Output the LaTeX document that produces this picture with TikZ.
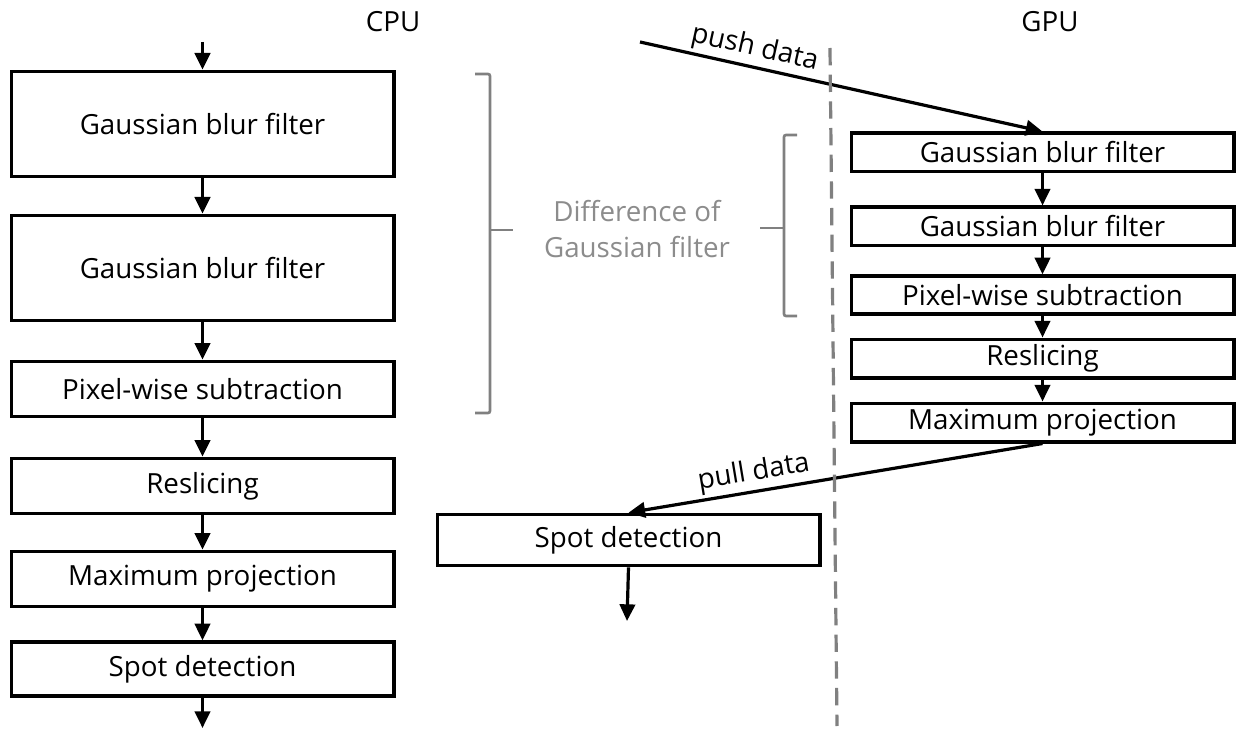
\documentclass[tikz,border=0pt]{standalone}
\usepackage{fontspec}
\setmainfont{Open Sans}
\usetikzlibrary{arrows.meta}
\definecolor{brgray}{RGB}{128,128,128}
\definecolor{txgray}{RGB}{140,140,140}
\begin{document}
\begin{tikzpicture}[x=0.75pt,y=-0.75pt,
  box/.style={draw,line width=2.5pt,inner sep=0pt,minimum width=287pt,font=\fontsize{20.8}{24}\selectfont},
  arr/.style={line width=2.4pt,-{Triangle[length=12.5pt,width=11.5pt]}},
  lbl/.style={font=\fontsize{20.8}{24}\selectfont},
  brace/.style={draw=brgray,line width=2pt,rounded corners=1.5pt},
  sep/.style={draw=brgray,line width=2.4pt,dash pattern=on 13pt off 7pt}]
\useasboundingbox (0,0) rectangle (1247,731);
% CPU column
\node[lbl] (cpu) at (393,22) {CPU};
\node[box,minimum height=79pt] (c1) at (202.5,124) {Gaussian blur filter};
\node[box,minimum height=79pt] (c2) at (202.5,268) {Gaussian blur filter};
\node[box,minimum height=41.5pt] (c3) at (202.5,389) {Pixel-wise subtraction};
\node[box,minimum height=41.5pt] (c4) at (202.5,486) {Reslicing};
\node[box,minimum height=41.5pt] (c5) at (202.5,579) {Maximum projection};
\node[box,minimum height=40.5pt] (c6) at (202.5,669) {Spot detection};
\coordinate (cin) at (202.5,42);
\coordinate (cout) at (202.5,728);
\draw[arr] (cin) -- (c1.north);
\draw[arr] (c1.south) -- (c2.north);
\draw[arr] (c2.south) -- (c3.north);
\draw[arr] (c3.south) -- (c4.north);
\draw[arr] (c4.south) -- (c5.north);
\draw[arr] (c5.south) -- (c6.north);
\draw[arr] (c6.south) -- (cout);
% GPU column
\node[lbl] (gpu) at (1050,22) {GPU};
\node[box,minimum height=29pt] (g1) at (1042.5,152.5) {Gaussian blur filter};
\node[box,minimum height=29pt] (g2) at (1042.5,226.5) {Gaussian blur filter};
\node[box,minimum height=28.5pt] (g3) at (1042.5,295) {Pixel-wise subtraction};
\node[box,minimum height=29pt] (g4) at (1042.5,358.5) {Reslicing};
\node[box,minimum height=29pt] (g5) at (1042.5,422.5) {Maximum projection};
\draw[arr] (g1.south) -- (g2.north);
\draw[arr] (g2.south) -- (g3.north);
\draw[arr] (g3.south) -- (g4.north);
\draw[arr] (g4.south) -- (g5.north);
% middle
\node[box,minimum height=38.5pt] (m) at (628.5,540) {Spot detection};
\coordinate (mout) at (627,621);
\draw[arr] (m.south) -- (mout);
\coordinate (push) at (640,42);
\draw[arr] (push) -- node[lbl,pos=0.275,sloped,above=-1pt] {push data} (g1.north);
\draw[arr] (g5.south) -- node[lbl,pos=0.69,sloped,above=-1pt] {pull data} (m.north);
% separator
\coordinate (dtop) at (830,48);
\coordinate (dbot) at (837,726);
\draw[sep] (dtop) -- (dbot);
% braces
\draw[brace] (475,74) -- (490,74) -- (490,413) -- (475,413);
\draw[brace] (490,230) -- (513,230);
\draw[brace] (797,135) -- (784,135) -- (784,316) -- (797,316);
\draw[brace] (784,228) -- (760,228);
\node[lbl,text=txgray,align=center] (dog) at (637,229) {Difference of\\[3pt]Gaussian filter};
\end{tikzpicture}
\end{document}
